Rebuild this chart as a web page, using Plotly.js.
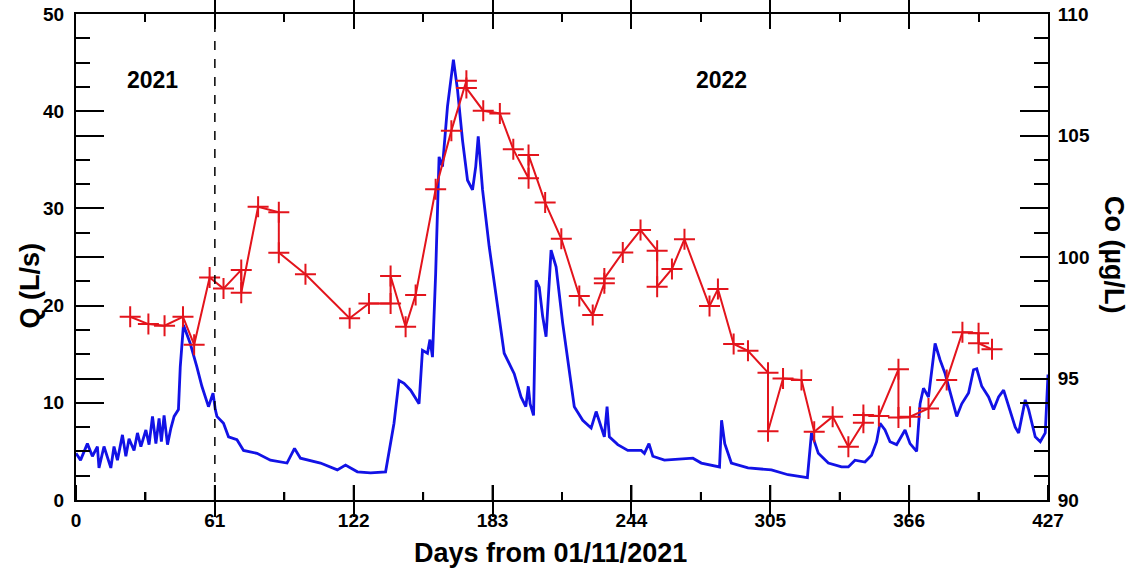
<!DOCTYPE html>
<html>
<head>
<meta charset="utf-8">
<script src="https://cdn.plot.ly/plotly-3.0.1.min.js"></script>
<style>html,body{margin:0;padding:0;background:#fff;}#chart{width:1135px;height:575px;}</style>
</head>
<body>
<div id="chart"></div>
<script>
// Discharge Q (L/s), left axis
const qDays = [0,2.0,5.0,7.2,9.4,10.1,12.3,14.5,15.3,16.7,18.2,20.4,21.9,23.3,25.5,27.0,28.5,30.7,32.1,33.6,35.1,36.5,37.5,38.7,40.2,41.7,43.1,45.0,45.8,47.2,50.2,53.1,55.3,58.2,60.2,61.2,61.9,64.8,67.0,70.7,73.6,79.5,85.4,92.7,96.0,98.6,107.4,114.8,118.4,123.6,129.4,136.0,137.5,139.7,141.9,144.1,147.0,150.7,152.2,154.4,155.5,156.6,158.0,159.5,161.0,163.2,165.8,167.6,169.8,172.0,174.2,175.6,176.7,178.6,181.5,185.2,188.1,192.5,195.5,197.6,198.7,199.5,201.0,202.1,203.5,205.0,206.5,208.7,210.9,213.8,216.7,218.9,222.6,226.3,228.5,230.7,232.1,233.3,234.3,238.0,242.4,248.3,249.7,251.7,253.4,258.5,264.4,271.0,274.7,282.7,283.6,285.0,287.9,295.2,305.5,312.8,321.3,323.1,326.1,330.5,336.3,339.3,342.2,346.6,349.5,351.7,353.2,355.4,357.6,360.5,364.2,366.4,369.3,370.8,372.3,374.5,377.4,379.6,381.8,384.7,386.9,389.1,392.1,394.3,395.7,397.9,400.9,403.1,405.3,407.5,409.7,412.6,414.1,417.0,418.5,421.4,423.6,425.8,427.0];
const qValues = [4.8,4.1,5.8,4.5,5.5,3.3,5.5,3.8,3.3,5.5,4.1,6.7,4.5,6.3,5.1,6.9,5.5,7.2,5.7,8.6,5.8,8.4,6.0,8.7,5.7,7.4,8.6,9.3,13.7,18.0,16.1,13.7,11.7,9.6,11.0,9.3,8.6,7.9,6.5,6.2,5.1,4.8,4.1,3.8,5.3,4.3,3.8,3.1,3.6,2.9,2.8,2.9,5.1,7.9,12.3,12.0,11.3,9.9,15.4,15.1,16.5,14.7,23.3,35.3,34.3,40.5,45.3,42.2,37.0,32.9,31.9,34.3,37.4,31.9,26.1,19.9,15.1,13.0,10.6,9.6,11.7,9.9,8.7,22.6,21.9,18.9,16.8,25.7,24.0,18.2,13.0,9.6,8.2,7.4,9.1,7.4,6.5,9.6,6.5,5.7,5.1,5.1,4.8,5.8,4.5,4.1,4.2,4.3,3.8,3.4,8.2,5.8,3.8,3.3,3.1,2.6,2.3,6.9,4.8,3.8,3.4,3.4,4.1,3.9,4.6,6.0,7.9,7.2,6.0,5.7,7.2,5.8,5.0,9.9,11.5,10.6,16.1,14.4,13.0,10.6,8.6,9.9,11.0,13.4,13.5,11.7,10.6,9.3,10.6,11.3,9.6,7.5,6.9,10.3,9.3,6.5,6.0,6.9,12.9];

// Co concentration (µg/L), right axis
const coDays = [23.8,31.8,38.9,47.0,51.9,58.7,64.8,72.6,72.6,80.0,89.1,89.1,100.8,120.2,128.7,138.2,138.2,144.8,149.2,158.0,164.9,171.5,171.5,178.9,186.2,192.1,198.8,198.8,206.1,213.2,221.1,227.0,232.1,232.1,240.2,248.0,255.3,255.3,261.8,267.3,278.3,282.0,288.9,295.2,304.0,304.0,310.6,318.7,324.3,332.4,339.3,345.9,345.9,352.7,361.3,361.3,366.4,374.5,382.5,389.4,396.5,396.5,402.4];
const coValues = [97.54,97.24,97.17,97.54,96.39,99.16,98.70,99.47,98.53,102.07,101.84,100.18,99.29,97.48,98.09,98.09,99.22,97.13,98.44,102.79,105.20,107.25,106.95,106.02,105.91,104.43,103.24,104.20,102.24,100.75,98.40,97.61,98.92,99.12,100.19,101.11,100.26,98.78,99.51,100.73,97.98,98.68,96.42,96.14,95.24,92.83,95.00,94.94,92.81,93.43,92.19,93.18,93.50,93.46,95.38,93.39,93.43,93.77,94.94,96.90,96.86,96.45,96.20];

const xTicks = [0,61,122,183,244,305,366,427];
const xMinor = [30.5,91.5,152.5,213.5,274.5,335.5,396.5];
const yTicks = [0,10,20,30,40,50];
const yMinor = [5,15,25,35,45];
const y2Ticks = [90,95,100,105,110];
const y2Minor = [91,92,93,94,96,97,98,99,101,102,103,104,106,107,108,109];
const yearLabels = ['2021','2022'];
const yearDays = [33.5,283.5];
const yearQ = [43.2,43.2];
const dividerDay = 61;

const FONT = 'Arial, "Liberation Sans", sans-serif';
const tickFont = {family: FONT, size: 19, color: '#000', weight: 'bold'};
const axBase = {showgrid: false, zeroline: false, automargin: false, tickcolor: '#000', tickwidth: 2,
                ticks: 'inside', tickmode: 'array', mirror: 'allticks'};
function tickAxis(o) {
  return Object.assign({}, axBase, {showline: false, showticklabels: false}, o);
}
function ghost(xa, ya) {
  return {x: [], y: [], type: 'scatter', mode: 'lines', xaxis: xa, yaxis: ya, showlegend: false, hoverinfo: 'skip'};
}

// bottom-edge tick marks: Q-axis units, 0 -> tick length (50 Q units = 486 px)
const Q_PER_PX = 50 / 486;
function bottomTicks(vals, lenPx) {
  return vals.map(v => ({type: 'line', xref: 'x', yref: 'y', x0: v, x1: v, y0: 0, y1: lenPx * Q_PER_PX,
                         layer: 'above', line: {color: '#000', width: 2}}));
}

const traces = [
  {x: qDays, y: qValues, type: 'scatter', mode: 'lines', xaxis: 'x', yaxis: 'y',
   line: {color: '#1212e6', width: 2.8}, hoverinfo: 'skip', showlegend: false},
  {x: coDays, y: coValues, type: 'scatter', mode: 'lines+markers', xaxis: 'x', yaxis: 'y2',
   line: {color: '#e3141c', width: 2},
   marker: {symbol: 'cross-thin-open', size: 15, line: {color: '#e3141c', width: 2}},
   showlegend: false},
  ghost('x3', 'y'),
  ghost('x', 'y3'), ghost('x', 'y5'), ghost('x', 'y6'), ghost('x', 'y7')
];

const layout = {
  width: 1135, height: 575,
  margin: {l: 76, r: 87, t: 14, b: 75},
  paper_bgcolor: '#fff', plot_bgcolor: 'rgba(0,0,0,0)',
  showlegend: false,
  xaxis: Object.assign({}, axBase, {
    range: [0, 427], tickvals: xTicks, ticklen: 15,
    showline: true, linecolor: '#000', linewidth: 2,
    tickfont: tickFont, ticklabelstandoff: 2
  }),
  xaxis3: tickAxis({range: [0, 427], tickvals: xMinor, ticklen: 8, overlaying: 'x', side: 'bottom', anchor: 'y'}),
  yaxis: Object.assign({}, axBase, {
    range: [0, 50], tickvals: yTicks, ticklen: 28, mirror: true,
    showline: true, linecolor: '#000', linewidth: 2,
    tickfont: tickFont, ticklabelstandoff: 6
  }),
  yaxis2: Object.assign({}, axBase, {
    range: [90, 110], overlaying: 'y', side: 'right', anchor: 'x', tickvals: y2Ticks, ticklen: 28, mirror: false,
    showline: true, linecolor: '#000', linewidth: 2,
    tickfont: tickFont, ticklabelstandoff: 4
  }),
  yaxis3: tickAxis({range: [0, 50], tickvals: yTicks, ticklen: 28, overlaying: 'y', side: 'right', anchor: 'x'}),
  yaxis5: tickAxis({range: [0, 50], tickvals: yMinor, ticklen: 14, overlaying: 'y', side: 'right', anchor: 'x'}),
  yaxis6: tickAxis({range: [90, 110], tickvals: y2Ticks, ticklen: 28, overlaying: 'y', side: 'left', anchor: 'x'}),
  yaxis7: tickAxis({range: [90, 110], tickvals: y2Minor, ticklen: 14, overlaying: 'y', side: 'left', anchor: 'x'}),
  shapes: [
    {type: 'line', xref: 'x', yref: 'paper', x0: dividerDay, x1: dividerDay, y0: 0, y1: 1,
     line: {color: '#000', width: 1.5, dash: 'dash'}}
  ].concat(bottomTicks(xTicks, 15), bottomTicks(xMinor, 8)),
  annotations: [
    {text: 'Q (L/s)', xref: 'paper', yref: 'paper', x: -0.047, y: 0.442, xanchor: 'center', yanchor: 'middle', textangle: -90,
     showarrow: false, font: {family: FONT, size: 27, color: '#000', weight: 'bold'}},
    {text: 'Co (\u00b5g/L)', xref: 'paper', yref: 'paper', x: 1.068, y: 0.504, xanchor: 'center', yanchor: 'middle', textangle: 90,
     showarrow: false, font: {family: FONT, size: 27, color: '#000', weight: 'bold'}},
    {text: 'Days from 01/11/2021', xref: 'paper', yref: 'paper', x: 0.4877, y: -0.109, xanchor: 'center', yanchor: 'middle',
     showarrow: false, font: {family: FONT, size: 27, color: '#000', weight: 'bold'}}
  ].concat(yearLabels.map((t, i) => ({
     text: t, xref: 'x', yref: 'y', x: yearDays[i], y: yearQ[i], xanchor: 'center', yanchor: 'middle', showarrow: false,
     font: {family: FONT, size: 23, color: '#000', weight: 'bold'}
  })))
};

Plotly.newPlot('chart', traces, layout, {displayModeBar: false, staticPlot: true});
</script>
</body>
</html>
